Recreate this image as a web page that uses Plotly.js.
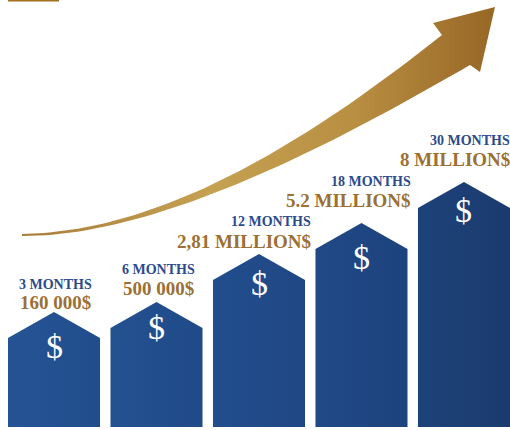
<!DOCTYPE html>
<html><head><meta charset="utf-8">
<script src="https://cdn.plot.ly/plotly-3.0.1.min.js"></script>
<style>html,body{margin:0;padding:0;background:#fff}#chart{width:510px;height:430px}</style>
</head><body><div id="chart"></div>
<script>
// ---- data ----
const periods = ['3 MONTHS', '6 MONTHS', '12 MONTHS', '18 MONTHS', '30 MONTHS'];
const amounts = ['160 000$', '500 000$', '2,81 MILLION$', '5.2 MILLION$', '8 MILLION$'];
const levels = [89, 99, 147, 178, 219];   // wall height of each house-shaped bar

// ---- style ----
const ROOF = 26, W = 0.898;
const barLight = ['#255394', '#245191', '#224e8d', '#204986', '#1d4279'];
const barDark  = ['#214d8c', '#204a88', '#1f4784', '#1d437d', '#1b3b6f'];
const periodGap = [28, 33, 33, 42, 42];
const amountGap = [10, 14, 13, 23, 23];
const dollarGap = [34, 25, 29, 34, 28];
const labelShift = [1, 2, 7, 4, 1];
const BLUE = '#2c4b8c', GOLD = '#9b7034';

function bez(p0, p1, p2, p3, n) {
  const xs = [], ys = [];
  for (let k = 0; k <= n; k++) {
    const t = k / n, u = 1 - t;
    xs.push(u*u*u*p0[0] + 3*u*u*t*p1[0] + 3*u*t*t*p2[0] + t*t*t*p3[0]);
    ys.push(u*u*u*p0[1] + 3*u*u*t*p1[1] + 3*u*t*t*p2[1] + t*t*t*p3[1]);
  }
  return [xs, ys];
}
// decorative arrow (pixel space on overlay axes)
const up = bez([22, 234], [130, 232], [260, 180], [442, 35], 60);
const lo = bez([22, 236], [140, 236], [290, 170], [470, 65], 60);
const ax = up[0].concat([433, 495, 480], lo[0].slice().reverse());
const ay = up[1].concat([23, 7, 72], lo[1].slice().reverse());

const traces = [{
  x: ax, y: ay, xaxis: 'x2', yaxis: 'y2', type: 'scatter', mode: 'lines',
  fill: 'toself', line: {width: 0, color: 'rgba(0,0,0,0)'}, hoverinfo: 'skip',
  fillcolor: '#bb9445',
  fillgradient: {type: 'horizontal', colorscale: [[0, '#a97d3a'], [0.4, '#c5a152'], [0.7, '#b98f42'], [1, '#976726']]}
}];

levels.forEach((h, i) => {
  const l = i - W / 2, r = i + W / 2;
  traces.push({
    x: [l, l, i, r, r, l], y: [0, h, h + ROOF, h, 0, 0],
    type: 'scatter', mode: 'lines', fill: 'toself', hoverinfo: 'skip',
    line: {width: 0, color: 'rgba(0,0,0,0)'}, fillcolor: barDark[i],
    fillgradient: {type: 'horizontal', colorscale: [[0, barLight[i]], [1, barDark[i]]]}
  });
});

const annotations = [];
levels.forEach((h, i) => {
  const peak = h + ROOF;
  const centered = i < 2;
  const ax0 = centered ? i : i + W / 2;
  const anchor = centered ? 'center' : 'right';
  annotations.push({
    x: ax0, y: peak + periodGap[i], text: periods[i], showarrow: false,
    xanchor: anchor, yanchor: 'middle', xshift: labelShift[i], borderpad: 0,
    font: {family: 'Liberation Serif', size: 14, color: BLUE, weight: 700}
  });
  annotations.push({
    x: ax0, y: peak + amountGap[i], text: amounts[i], showarrow: false,
    xanchor: anchor, yanchor: 'middle', xshift: labelShift[i], borderpad: 0,
    font: {family: 'Liberation Serif', size: 19, color: GOLD, weight: 700}
  });
  annotations.push({
    x: i, y: peak - dollarGap[i], text: '$', showarrow: false,
    xanchor: 'center', yanchor: 'middle',
    font: {family: 'Liberation Serif', size: 34, color: '#ffffff'}
  });
});

const layout = {
  width: 510, height: 430, margin: {l: 0, r: 0, t: 0, b: 0, pad: 0},
  paper_bgcolor: '#ffffff', plot_bgcolor: '#ffffff', showlegend: false,
  xaxis: {range: [-0.527, 4.449], visible: false, fixedrange: true},
  yaxis: {range: [-3, 427], visible: false, fixedrange: true},
  xaxis2: {range: [0, 510], overlaying: 'x', visible: false, fixedrange: true},
  yaxis2: {range: [430, 0], overlaying: 'y', visible: false, fixedrange: true},
  shapes: [{type: 'rect', xref: 'x2', yref: 'y2', x0: 8, x1: 59, y0: 0, y1: 1.5,
            fillcolor: '#a0701f', line: {width: 0}}],
  annotations: annotations
};
Plotly.newPlot('chart', traces, layout, {displayModeBar: false, staticPlot: true});
</script></body></html>
